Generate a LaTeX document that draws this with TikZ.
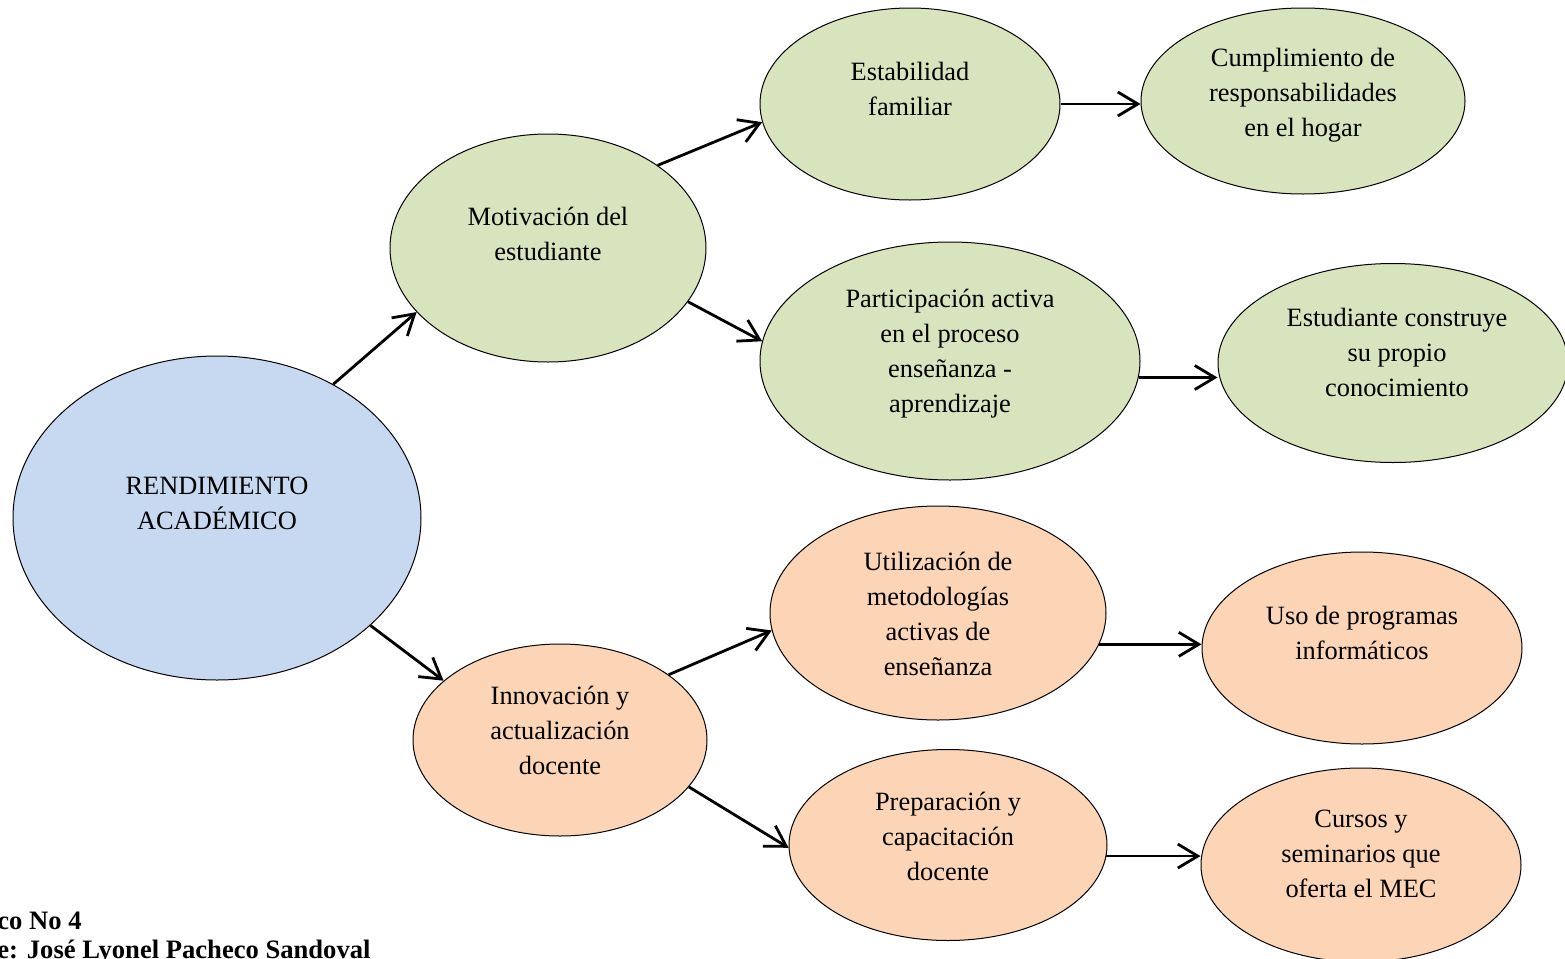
\documentclass[tikz,border=0pt]{standalone}
\usepackage{fontspec}
\setmainfont{Liberation Serif}
\usetikzlibrary{arrows.meta,shapes.geometric}
\definecolor{rblue}{RGB}{198,217,241}
\definecolor{rgreen}{RGB}{215,228,189}
\definecolor{rorange}{RGB}{251,213,181}
\tikzset{
  bub/.style={ellipse,draw=black,line width=0.5pt,inner sep=0pt},
  txt/.style={align=center,font=\fontsize{13.2}{17.5}\selectfont},
  arr/.style={line width=1.4pt,-{Straight Barb[length=10pt,width=12pt,line width=1.4pt]}},
  captxt/.style={anchor=base west,font=\fontsize{13.3}{14}\selectfont\bfseries,inner sep=0pt}
}
\begin{document}
\begin{tikzpicture}[x=0.5pt,y=-0.5pt]
\useasboundingbox (0,0) rectangle (1565,959);
% ellipses (sizes in pt = px/2)
\node[bub,fill=rblue,minimum width=204pt,minimum height=162pt] (ra) at (217,518) {};
\node[bub,fill=rgreen,minimum width=158pt,minimum height=114pt] (mot) at (548,248) {};
\node[bub,fill=rgreen,minimum width=150pt,minimum height=96pt] (est) at (910,104) {};
\node[bub,fill=rgreen,minimum width=162pt,minimum height=93pt] (cum) at (1303,101) {};
\node[bub,fill=rgreen,minimum width=190pt,minimum height=119pt] (par) at (950,361) {};
\node[bub,fill=rgreen,minimum width=175pt,minimum height=99.5pt] (con) at (1393,363) {};
\node[bub,fill=rorange,minimum width=147pt,minimum height=96pt] (inn) at (560,740) {};
\node[bub,fill=rorange,minimum width=168pt,minimum height=107pt] (uti) at (938,613) {};
\node[bub,fill=rorange,minimum width=160pt,minimum height=96pt] (uso) at (1362,648) {};
\node[bub,fill=rorange,minimum width=159pt,minimum height=95.5pt] (pre) at (948,845) {};
\node[bub,fill=rorange,minimum width=160pt,minimum height=97pt] (cur) at (1361,865) {};
% texts
\node[txt] (tra) at (217,503) {RENDIMIENTO\\ACADÉMICO};
\node[txt] (tmot) at (548,234) {Motivación del\\estudiante};
\node[txt] (test) at (910,89) {Estabilidad\\familiar};
\node[txt] (tcum) at (1303,95) {Cumplimiento de\\responsabilidades\\en el hogar};
\node[txt] (tpar) at (950,354) {Participación activa\\en el proceso\\enseñanza -\\aprendizaje};
\node[txt] (tcon) at (1397,352) {Estudiante construye\\su propio\\conocimiento};
\node[txt] (tinn) at (560,730) {Innovación y\\actualización\\docente};
\node[txt] (tuti) at (938,614) {Utilización de\\metodologías\\activas de\\enseñanza};
\node[txt] (tuso) at (1362,633) {Uso de programas\\informáticos};
\node[txt] (tpre) at (948,836) {Preparación y\\capacitación\\docente};
\node[txt] (tcur) at (1361,854) {Cursos y\\seminarios que\\oferta el MEC};
% connectors
\draw[arr] (ra.49.3) -- (mot.206.6);
\draw[arr] (mot.37.9) -- (est.187);
\draw[arr] (mot.-21.4) -- (par.174.6);
\draw[arr] (est.east) -- (est.east -| cum.west);
\draw[arr] (par.-5.8) -- (par.-5.8 -| con.west);
\draw[arr] (ra.-35.7) -- (inn.153);
\draw[arr] (inn.31.8) -- (uti.186.6);
\draw[arr] (inn.-20.9) -- (pre.181.8);
\draw[arr] (uti.-11.3) -- (uti.-11.3 -| uso.west);
\draw[arr] (pre.-4.7) -- (pre.-4.7 -| cur.west);
% caption
\node[captxt] (c1) at (-3,929) {co No 4};
\node[captxt] (c2) at (-3,958) {e: José Lyonel Pacheco Sandoval};
\end{tikzpicture}
\end{document}
